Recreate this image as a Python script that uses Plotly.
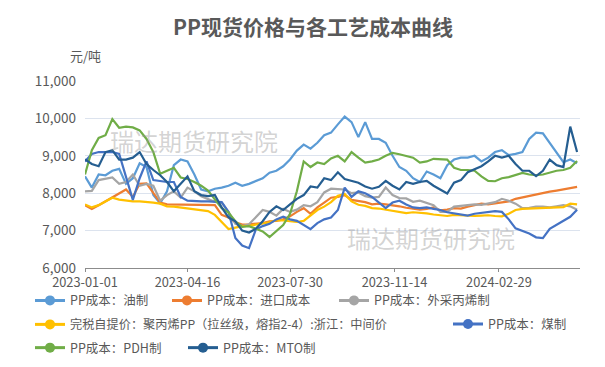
import datetime as dt
import plotly.graph_objects as go

start = dt.date(2023, 1, 1)
dates = [(start + dt.timedelta(days=7 * i)).isoformat() for i in range(73)]

oil = [8450, 8150, 8500, 8480, 8600, 8650, 8250, 8400, 8800, 8700,
       7950, 7730, 8050, 8750, 8900, 8850, 8500, 8100, 8050, 8120,
       8150, 8200, 8280, 8200, 8250, 8330, 8400, 8550, 8600, 8720,
       8900, 9140, 9300, 9190, 9350, 9550, 9620, 9840, 10050, 9900,
       9500, 9900, 9450, 9450, 9350, 9000, 8700, 8600, 8400, 8300,
       8580, 8500, 8400, 8750, 8900, 8950, 8950, 9000, 8850, 8950,
       9100, 9150, 9020, 9050, 9100, 9450, 9620, 9600, 9350, 9100,
       8830, 8900, 8800]
imported = [7680, 7580, 7680, 7780, 7900, 7980, 8100, 7900, 8250, 8260,
            8000, 7750, 7700, 7700, 7690, 7680, 7690, 7680, 7690, 7680,
            7420, 7350, 7220, 7160, 7170, 7180, 7200, 7250, 7260, 7300,
            7380, 7500, 7600, 7450, 7620, 7750, 7880, 7900, 7950, 7820,
            7800, 7760, 7700, 7720, 7700, 7680, 7650, 7610, 7580, 7560,
            7580, 7620, 7540, 7560, 7600, 7590, 7640, 7690, 7720, 7700,
            7730, 7760, 7780, 7850, 7890, 7940, 7980, 8020, 8040, 8070,
            8110, 8130, 8170]
propylene = [8050, 8060, 8350, 8380, 8420, 8250, 8300, 8500, 8200, 8250,
             8200, 7800, 7950, 8050, 7880, 8150, 8050, 7920, 7850, 7770,
             7750, 7500, 7180, 7120, 7170, 7350, 7550, 7500, 7400, 7580,
             7500, 7560, 7680, 7650, 7760, 8020, 8120, 8110, 8100, 8000,
             8020, 7920, 7880, 7900, 8150, 7950, 7870, 7860, 7770, 7800,
             7730, 7680, 7500, 7500, 7640, 7660, 7690, 7700, 7690, 7730,
             7760, 7850, 7800, 7720, 7600, 7610, 7640, 7640, 7620, 7650,
             7680, 7650, 7560]
spot = [7700, 7620, 7680, 7780, 7880, 7830, 7800, 7780, 7780, 7770,
        7750, 7720, 7650, 7640, 7620, 7600, 7580, 7550, 7520, 7420,
        7230, 7040, 7080, 7120, 7130, 7170, 7190, 7220, 7280, 7270,
        7250, 7230, 7260, 7400, 7550, 7640, 7760, 7930, 7980, 7780,
        7690, 7660, 7600, 7590, 7560, 7520, 7500, 7470, 7490, 7480,
        7460, 7430, 7420, 7390, 7420, 7410, 7400, 7390, 7400, 7410,
        7390, 7380, 7450, 7550, 7580, 7590, 7600, 7600, 7610, 7620,
        7630, 7720, 7700]
coal = [8850, 9050, 9100, 9100, 9100, 9050, 8400, 7820, 8400, 8850,
        8350, 8320, 8300, 8300, 7900, 7800, 7780, 7780, 7780, 7770,
        7760, 7500, 6800, 6600, 6530, 7030, 7120, 7180, 7300, 7370,
        7300, 7260, 7150, 7040, 7200, 7300, 7350, 7550, 8150, 7900,
        8050, 8000, 7900, 7750, 7600, 7750, 7800, 7700, 7620, 7600,
        7620, 7580, 7550, 7490, 7460, 7420, 7400, 7450, 7480, 7500,
        7520, 7500, 7300, 7060, 7000, 6920, 6820, 6800, 7050, 7160,
        7250, 7370, 7560]
pdh = [8500, 9150, 9480, 9550, 9980, 9750, 9780, 9760, 9680, 9450,
       9100, 8520, 8600, 8680, 8420, 8380, 8300, 8200, 8070, 7850,
       7600, 7480, 7250, 7100, 7120, 7050, 6980, 6830, 7000, 7150,
       7450, 8050, 8850, 8700, 8820, 8780, 8930, 9000, 8850, 9100,
       8950, 8820, 8850, 8900, 9000, 9080, 9040, 9000, 8950, 8820,
       8850, 8920, 8900, 8900, 8680, 8620, 8620, 8600, 8450, 8330,
       8320, 8400, 8430, 8490, 8540, 8500, 8480, 8500, 8560, 8600,
       8620, 8680, 8860]
mto = [8900, 8780, 8720, 9100, 9150, 8900, 8900, 8950, 9100, 8780,
       8620, 8480, 8300, 8050, 8250, 8450, 8050, 7950, 7920, 7950,
       7620, 7350, 7250, 7000, 6950, 7050, 7250, 7500, 7650, 7550,
       7700, 7850, 7950, 8180, 8150, 8400, 8350, 8560, 8380, 8330,
       8280, 8180, 8120, 8170, 8330, 8200, 8100, 8300, 8250, 8300,
       8330, 8200, 8100, 7990, 8280, 8350, 8560, 8650, 8720, 8850,
       9000, 8950, 9000, 8780, 8600, 8600, 8460, 8600, 8900, 8750,
       8700, 9780, 9100]

names = ["PP成本：油制", "PP成本：进口成本", "PP成本：外采丙烯制",
         "完税自提价：聚丙烯PP（拉丝级，熔指2-4）:浙江：中间价",
         "PP成本：煤制", "PP成本：PDH制", "PP成本：MTO制"]
series = [oil, imported, propylene, spot, coal, pdh, mto]
colors = ["#5B9BD5", "#ED7D31", "#A5A5A5", "#FFC000", "#4472C4", "#70AD47", "#255E91"]

tick_vals = ["2023-01-01", "2023-04-16", "2023-07-30", "2023-11-14", "2024-02-29"]
tick_text = ["2023-01-01", "2023-04-16", "2023-07-30", "2023-11-14", "2024-02-29"]
y_ticks = [6000, 7000, 8000, 9000, 10000, 11000]

FONT = "Noto Sans CJK SC, Noto Sans, sans-serif"
TXT = "#595959"

fig = go.Figure()
for n, s, c in zip(names, series, colors):
    fig.add_trace(go.Scatter(x=dates, y=s, mode="lines", name=n,
                             line=dict(color=c, width=2.2), showlegend=False,
                             hoverinfo="skip"))

W, H = 605, 367
L, R, T, B = 77, 33, 73, 100
pw, ph = W - L - R, H - T - B
leg_pos = [(22, 301), (159, 301), (326, 301), (22, 325.5), (440, 325.5), (22, 350), (175, 350)]
leg_size = [12.5, 12.5, 12.5, 12.2, 12.5, 12.5, 12.5]
legend_keys = ["legend"] + ["legend%d" % k for k in range(2, 8)]
for key, n, c in zip(legend_keys, names, colors):
    fig.add_trace(go.Scatter(x=[None], y=[None], mode="lines+markers", name=n,
                             line=dict(color=c, width=3), marker=dict(color=c, size=10),
                             legend=key, showlegend=True))

layout_legends = {}
for key, (px, py), fs in zip(legend_keys, leg_pos, leg_size):
    layout_legends[key] = dict(x=(px - L) / pw, y=(H - B - py) / ph, xanchor="left", yanchor="middle",
                               orientation="h", bgcolor="rgba(0,0,0,0)", borderwidth=0,
                               font=dict(family=FONT, size=fs, color=TXT))

fig.update_layout(
    width=W, height=H,
    margin=dict(l=L, r=R, t=T, b=B),
    plot_bgcolor="white", paper_bgcolor="white",
    font=dict(family=FONT, size=13, color=TXT),
    title=dict(text="<b>PP现货价格与各工艺成本曲线</b>", x=305 / W, xref="container", xanchor="center",
               y=1 - 20 / H, yref="container", yanchor="middle",
               font=dict(family=FONT, size=21, color=TXT)),
    xaxis=dict(type="date", range=["2023-01-01", "2024-05-22"], tickvals=tick_vals, ticktext=tick_text,
               showgrid=False, showline=True, linecolor="#8C8C8C", linewidth=1,
               ticks="outside", ticklen=3, tickcolor="#8C8C8C",
               tickfont=dict(family=FONT, size=12.8, color=TXT), zeroline=False),
    yaxis=dict(range=[6000, 11000], tickvals=y_ticks, tickformat=",", showgrid=True,
               gridcolor="#DCE3EE", gridwidth=1, zeroline=False, showline=False, ticks="",
               ticklabelstandoff=8, tickfont=dict(family=FONT, size=13.5, color=TXT)),
    showlegend=True,
    **layout_legends,
)

fig.add_annotation(text="元/吨", xref="paper", yref="paper", x=(60 - L) / pw, y=(H - B - 47) / ph,
                   xanchor="left", yanchor="middle", showarrow=False,
                   font=dict(family=FONT, size=13, color=TXT))
for cx, cy in [(186, 135), (423, 235)]:
    fig.add_annotation(text="瑞达期货研究院", xref="paper", yref="paper",
                       x=(cx - L) / pw, y=(H - B - cy) / ph, xanchor="center", yanchor="middle",
                       showarrow=False, font=dict(family=FONT, size=24, color="rgba(150,150,150,0.42)"))

fig.write_html("out.html")
